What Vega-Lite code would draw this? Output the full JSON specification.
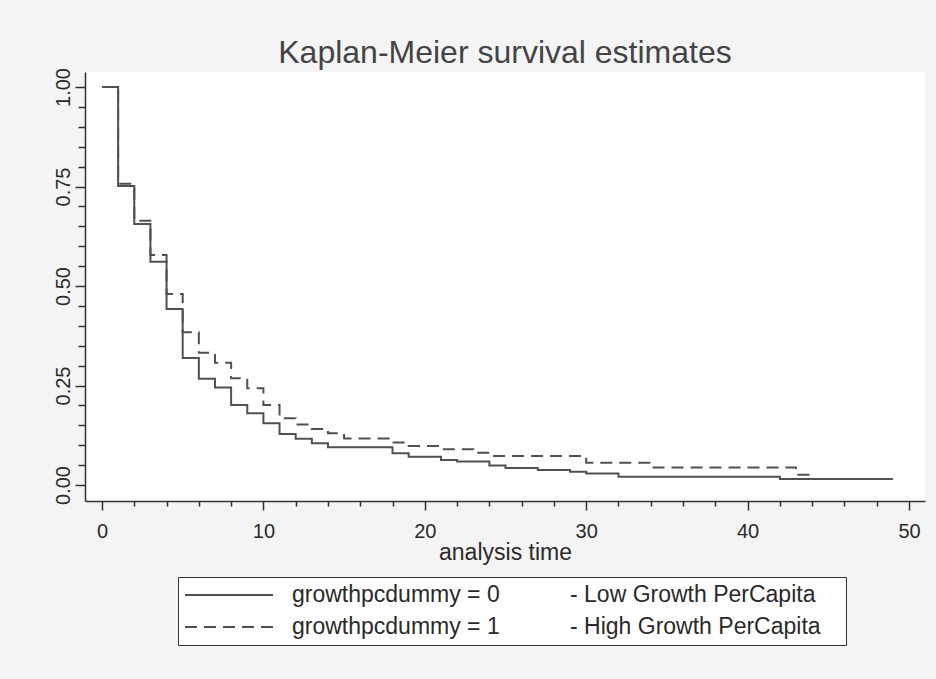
{
  "$schema": "https://vega.github.io/schema/vega-lite/v6.json",
  "width": 840,
  "height": 429,
  "autosize": {"type": "none"},
  "padding": {"left": 85, "top": 72, "right": 11, "bottom": 178},
  "background": "#f4f4f4",
  "config": {
    "view": {"fill": "#ffffff", "stroke": null},
    "font": "Liberation Sans",
    "axis": {
      "domainColor": "#333333",
      "domainWidth": 1.5,
      "tickColor": "#333333",
      "tickWidth": 1.5,
      "grid": false,
      "labelColor": "#2a2a2a",
      "labelFont": "Liberation Sans",
      "labelFontSize": 20,
      "titleFont": "Liberation Sans",
      "titleFontWeight": "normal",
      "titleColor": "#2a2a2a"
    }
  },
  "title": {
    "text": "Kaplan-Meier survival estimates",
    "anchor": "middle",
    "font": "Liberation Sans",
    "fontSize": 32,
    "fontWeight": "normal",
    "color": "#444444",
    "offset": -2
  },
  "datasets": {
    "km": [
      {"t": 0, "s": 1.0, "g": "growthpcdummy = 0"},
      {"t": 1, "s": 0.751, "g": "growthpcdummy = 0"},
      {"t": 2, "s": 0.656, "g": "growthpcdummy = 0"},
      {"t": 3, "s": 0.561, "g": "growthpcdummy = 0"},
      {"t": 4, "s": 0.442, "g": "growthpcdummy = 0"},
      {"t": 5, "s": 0.319, "g": "growthpcdummy = 0"},
      {"t": 6, "s": 0.267, "g": "growthpcdummy = 0"},
      {"t": 7, "s": 0.245, "g": "growthpcdummy = 0"},
      {"t": 8, "s": 0.201, "g": "growthpcdummy = 0"},
      {"t": 9, "s": 0.18, "g": "growthpcdummy = 0"},
      {"t": 10, "s": 0.155, "g": "growthpcdummy = 0"},
      {"t": 11, "s": 0.128, "g": "growthpcdummy = 0"},
      {"t": 12, "s": 0.116, "g": "growthpcdummy = 0"},
      {"t": 13, "s": 0.105, "g": "growthpcdummy = 0"},
      {"t": 14, "s": 0.095, "g": "growthpcdummy = 0"},
      {"t": 18, "s": 0.08, "g": "growthpcdummy = 0"},
      {"t": 19, "s": 0.071, "g": "growthpcdummy = 0"},
      {"t": 21, "s": 0.063, "g": "growthpcdummy = 0"},
      {"t": 22, "s": 0.059, "g": "growthpcdummy = 0"},
      {"t": 24, "s": 0.049, "g": "growthpcdummy = 0"},
      {"t": 25, "s": 0.043, "g": "growthpcdummy = 0"},
      {"t": 27, "s": 0.038, "g": "growthpcdummy = 0"},
      {"t": 29, "s": 0.033, "g": "growthpcdummy = 0"},
      {"t": 30, "s": 0.029, "g": "growthpcdummy = 0"},
      {"t": 32, "s": 0.021, "g": "growthpcdummy = 0"},
      {"t": 42, "s": 0.015, "g": "growthpcdummy = 0"},
      {"t": 49, "s": 0.015, "g": "growthpcdummy = 0"},
      {"t": 0, "s": 1.0, "g": "growthpcdummy = 1"},
      {"t": 1, "s": 0.757, "g": "growthpcdummy = 1"},
      {"t": 2, "s": 0.664, "g": "growthpcdummy = 1"},
      {"t": 3, "s": 0.578, "g": "growthpcdummy = 1"},
      {"t": 4, "s": 0.48, "g": "growthpcdummy = 1"},
      {"t": 5, "s": 0.384, "g": "growthpcdummy = 1"},
      {"t": 6, "s": 0.332, "g": "growthpcdummy = 1"},
      {"t": 7, "s": 0.307, "g": "growthpcdummy = 1"},
      {"t": 8, "s": 0.268, "g": "growthpcdummy = 1"},
      {"t": 9, "s": 0.243, "g": "growthpcdummy = 1"},
      {"t": 10, "s": 0.201, "g": "growthpcdummy = 1"},
      {"t": 11, "s": 0.168, "g": "growthpcdummy = 1"},
      {"t": 12, "s": 0.152, "g": "growthpcdummy = 1"},
      {"t": 13, "s": 0.141, "g": "growthpcdummy = 1"},
      {"t": 14, "s": 0.13, "g": "growthpcdummy = 1"},
      {"t": 15, "s": 0.117, "g": "growthpcdummy = 1"},
      {"t": 18, "s": 0.107, "g": "growthpcdummy = 1"},
      {"t": 19, "s": 0.098, "g": "growthpcdummy = 1"},
      {"t": 21, "s": 0.09, "g": "growthpcdummy = 1"},
      {"t": 23, "s": 0.081, "g": "growthpcdummy = 1"},
      {"t": 24, "s": 0.073, "g": "growthpcdummy = 1"},
      {"t": 30, "s": 0.056, "g": "growthpcdummy = 1"},
      {"t": 34, "s": 0.044, "g": "growthpcdummy = 1"},
      {"t": 43, "s": 0.026, "g": "growthpcdummy = 1"},
      {"t": 44, "s": 0.026, "g": "growthpcdummy = 1"}
    ]
  },
  "data": {"name": "km"},
  "layer": [
    {
      "mark": {"type": "line", "interpolate": "step-after", "color": "#505050", "strokeWidth": 2},
      "encoding": {
        "x": {
          "field": "t", "type": "quantitative",
          "scale": {"domain": [-1.053, 50.99], "nice": false, "zero": false},
          "axis": {
            "orient": "bottom",
            "values": [0, 10, 20, 30, 40, 50],
            "tickSize": 9,
            "labelPadding": 11,
            "title": "analysis time",
            "titleFontSize": 23,
            "titlePadding": 0
          }
        },
        "y": {
          "field": "s", "type": "quantitative",
          "scale": {"domain": [-0.0402, 1.0377], "nice": false, "zero": false},
          "axis": {
            "orient": "left",
            "values": [0, 0.25, 0.5, 0.75, 1],
            "format": ".2f",
            "tickSize": 10,
            "labelAngle": -90,
            "labelAlign": "center",
            "labelBaseline": "bottom",
            "labelPadding": 2,
            "title": null
          }
        },
        "strokeDash": {
          "field": "g", "type": "nominal",
          "scale": {"domain": ["growthpcdummy = 0", "growthpcdummy = 1"], "range": [[1, 0], [12, 7]]},
          "legend": {
            "title": null,
            "orient": "none",
            "legendX": 93,
            "legendY": 505,
            "direction": "vertical",
            "symbolType": "M-1,0H7",
            "symbolSize": 484,
            "symbolStrokeWidth": 2,
            "symbolStrokeColor": "#505050",
            "labelFont": "Liberation Sans",
            "labelFontSize": 23,
            "labelColor": "#2a2a2a",
            "labelLimit": 900,
            "labelOffset": 84,
            "rowPadding": 8,
            "padding": 6,
            "strokeColor": "#333333",
            "fillColor": "#ffffff",
            "labelExpr": "datum.label + '\u00a0\u00a0\u00a0\u00a0\u00a0\u00a0\u00a0\u00a0\u00a0\u00a0\u00a0' + (datum.value == 'growthpcdummy = 0' ? '- Low Growth PerCapita' : '- High Growth PerCapita') + '\u00a0\u00a0\u00a0\u200b'"
          }
        }
      }
    },
    {
      "mark": {"type": "line", "opacity": 0},
      "encoding": {
        "x": {
          "field": "t", "type": "quantitative",
          "axis": {
            "orient": "bottom",
            "values": [2, 4, 6, 8, 12, 14, 16, 18, 22, 24, 26, 28, 32, 34, 36, 38, 42, 44, 46, 48],
            "tickSize": 5,
            "labels": false,
            "domain": false,
            "title": null
          }
        },
        "y": {
          "field": "s", "type": "quantitative",
          "axis": {
            "orient": "left",
            "values": [0.05, 0.1, 0.15, 0.2, 0.3, 0.35, 0.4, 0.45, 0.55, 0.6, 0.65, 0.7, 0.8, 0.85, 0.9, 0.95],
            "tickSize": 7,
            "labels": false,
            "domain": false,
            "title": null
          }
        },
        "detail": {"field": "g", "type": "nominal"}
      }
    }
  ],
  "resolve": {"axis": {"x": "independent", "y": "independent"}}
}
